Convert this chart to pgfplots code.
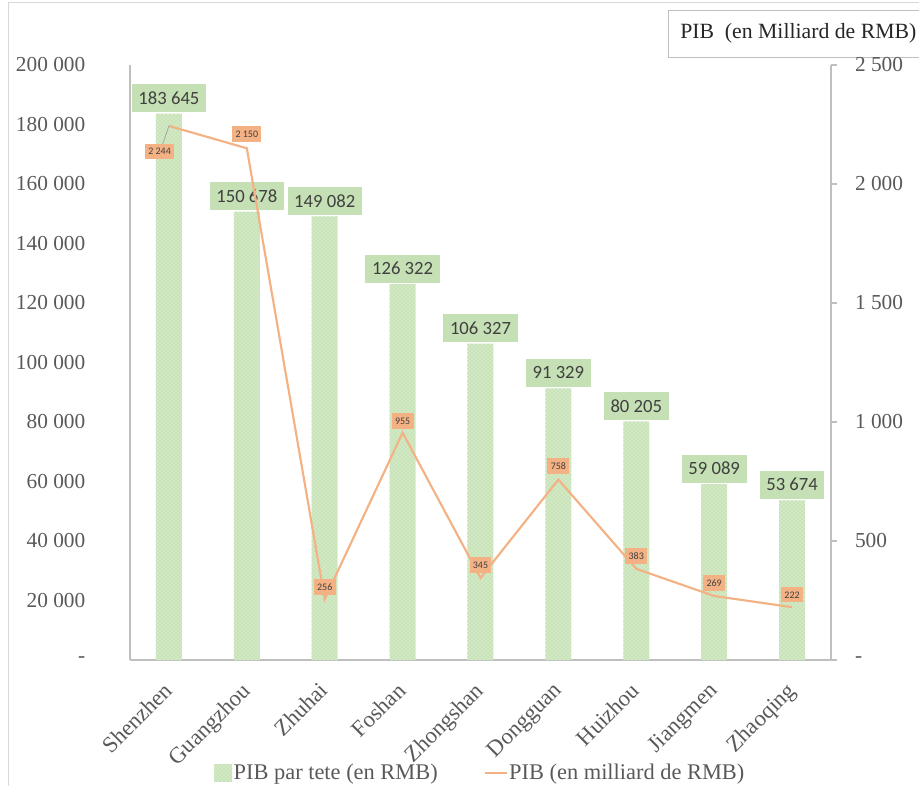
\documentclass[border=0pt]{standalone}
\usepackage{pgfplots}
\pgfplotsset{compat=1.18}
\usepackage{fontspec}
\setmainfont{Liberation Serif}
\newfontfamily\carlito{Carlito}
\usetikzlibrary{patterns}

\definecolor{barfill}{HTML}{D3E9C6}
\definecolor{bardot}{HTML}{A9D18E}
\definecolor{lblgreen}{HTML}{C5E0B4}
\definecolor{lineor}{HTML}{F4B183}
\definecolor{txtgray}{HTML}{595959}
\definecolor{lbltxt}{HTML}{404040}
\definecolor{axgray}{HTML}{BFBFBF}
\definecolor{framegray}{HTML}{D9D9D9}

\tikzset{barsty/.style={fill=barfill, draw=none, postaction={pattern=crosshatch dots, pattern color=bardot}}}

\begin{document}
\begin{tikzpicture}
\useasboundingbox (0,0) rectangle (689.25pt,588.75pt);
% outer frame and the box at top right
\draw[framegray, line width=0.75pt] (6pt,-5pt) -- (6pt,586.5pt) -- (700pt,586.5pt);
\draw[axgray, line width=0.6pt] (501pt,546pt) rectangle (700pt,581.25pt);
\node[anchor=west, inner sep=0pt, text=black!85, font=\fontsize{16.3}{19}\selectfont] at (510pt,564pt) {PIB\ \ (en Milliard de RMB)};

% left axis: GDP per head (bars)
\begin{axis}[
  at={(97.5pt,93.75pt)}, anchor=south west,
  scale only axis, width=525.75pt, height=446.25pt,
  xmin=-0.5, xmax=8.5, ymin=0, ymax=200000,
  scaled y ticks=false,
  axis x line=bottom, axis y line=left,
  axis line style={draw=axgray, line width=0.8pt, -},
  xtick={0,...,8},
  xticklabels={Shenzhen,Guangzhou,Zhuhai,Foshan,Zhongshan,Dongguan,Huizhou,Jiangmen,Zhaoqing},
  ytick={0,20000,...,200000},
  yticklabels={-\hspace{10pt},20 000,40 000,60 000,80 000,100 000,120 000,140 000,160 000,180 000,200 000},
  major tick length=0pt,
  x tick label style={rotate=45, anchor=north east, font=\fontsize{17}{20}\selectfont, text=txtgray, xshift=-11.25pt, yshift=-4.2pt},
  y tick label style={anchor=east, font=\fontsize{16}{19}\selectfont, text=txtgray, xshift=-30pt},
  clip=false,
]
\addplot[ybar, bar width=19.5pt, barsty,
  point meta=explicit symbolic,
  nodes near coords,
  nodes near coords style={anchor=south, yshift=1pt, fill=lblgreen, text=lbltxt,
    font=\carlito\fontsize{14}{16}\selectfont, inner xsep=5pt, minimum height=21pt}]
  coordinates {
  (0,183645) [183~645]
  (1,150678) [150~678]
  (2,149082) [149~082]
  (3,126322) [126~322]
  (4,106327) [106~327]
  (5,91329)  [91~329]
  (6,80205)  [80~205]
  (7,59089)  [59~089]
  (8,53674)  [53~674]
  };
\end{axis}

% right axis: GDP (line)
\begin{axis}[
  at={(97.5pt,93.75pt)}, anchor=south west,
  scale only axis, width=525.75pt, height=446.25pt,
  xmin=-0.5, xmax=8.5, ymin=0, ymax=2500,
  axis y line=right, axis x line=none,
  axis line style={draw=axgray, line width=0.8pt, -},
  ytick={0,500,...,2500},
  yticklabels={-,500,1 000,1 500,2 000,2 500},
  ytick style={draw=axgray, line width=0.8pt},
  major tick length=4.5pt, tick align=outside,
  y tick label style={anchor=west, font=\fontsize{16}{19}\selectfont, text=txtgray, xshift=10pt},
  legend style={at={(0.4993,-0.19)}, anchor=center, draw=none, fill=none,
    font=\fontsize{16.8}{19}\selectfont, text=txtgray,
    /tikz/every even column/.append style={column sep=34pt},
    nodes={inner xsep=1pt}},
  legend columns=2,
  clip=false,
]
\addlegendimage{draw=none, legend image code/.code={\path[barsty, draw=none] (0pt,-6.5pt) rectangle (13.5pt,6.5pt);}}
\addlegendentry{PIB par tete (en RMB)}
\addplot[lineor, line width=1.6pt, mark=none,
  legend image code/.code={\draw[lineor, line width=1.6pt] (0pt,0pt) -- (16pt,0pt);}]
  coordinates {(0,2244) (1,2150) (2,256) (3,955) (4,345) (5,758) (6,383) (7,269) (8,222)};
\addlegendentry{PIB (en milliard de RMB)}
% leader line of the first label
\addplot[gray!70, line width=0.6pt, forget plot] coordinates {(0,2244) (-0.08,2168)};
% data labels of the line
\addplot[draw=none, mark=none, forget plot,
  point meta=explicit symbolic,
  nodes near coords,
  nodes near coords style={anchor=center, fill=lineor, text=lbltxt,
    font=\carlito\fontsize{7.5}{9}\selectfont, inner xsep=2.5pt, minimum height=11pt}]
  coordinates {
  (-0.12,2136) [2~244]
  (1,2210) [2~150]
  (2,308) [256]
  (3,1005) [955]
  (4,400) [345]
  (5,815) [758]
  (6,437) [383]
  (7,323) [269]
  (8,274) [222]
  };
\end{axis}
\end{tikzpicture}
\end{document}
